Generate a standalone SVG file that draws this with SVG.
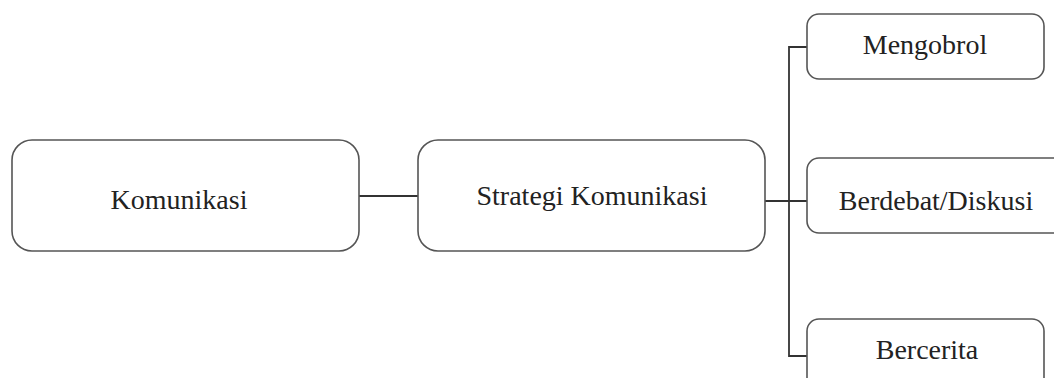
<svg xmlns="http://www.w3.org/2000/svg" width="1054" height="378" viewBox="0 0 1054 378">
<style>
.box{fill:#fff;stroke:#555;stroke-width:1.6}
.lbl{font-family:"Liberation Serif","Times New Roman",serif;font-size:28px;fill:#222;text-anchor:middle}
.con{fill:none;stroke:#333;stroke-width:1.8}
</style>
<rect width="1054" height="378" fill="#fff"/>
<g id="connectors">
<line class="con" x1="359" y1="196" x2="419" y2="196"/>
<line class="con" x1="765" y1="201" x2="807" y2="201"/>
<polyline class="con" points="807,47 789,47 789,356 807,356"/>
</g>
<g id="n-komunikasi">
<rect class="box" x="12" y="140" width="347" height="111" rx="20"/>
<text class="lbl" x="179" y="209">Komunikasi</text>
</g>
<g id="n-strategi">
<rect class="box" x="418" y="140" width="347" height="111" rx="20"/>
<text class="lbl" x="592" y="205">Strategi Komunikasi</text>
</g>
<g id="n-mengobrol">
<rect class="box" x="807" y="14" width="237" height="65" rx="12"/>
<text class="lbl" x="925" y="54">Mengobrol</text>
</g>
<g id="n-berdebat">
<rect class="box" x="807" y="158" width="260" height="75" rx="12"/>
<text class="lbl" x="936" y="210">Berdebat/Diskusi</text>
</g>
<g id="n-bercerita">
<rect class="box" x="807" y="319" width="237" height="75" rx="12"/>
<text class="lbl" x="927" y="359">Bercerita</text>
</g>
</svg>
